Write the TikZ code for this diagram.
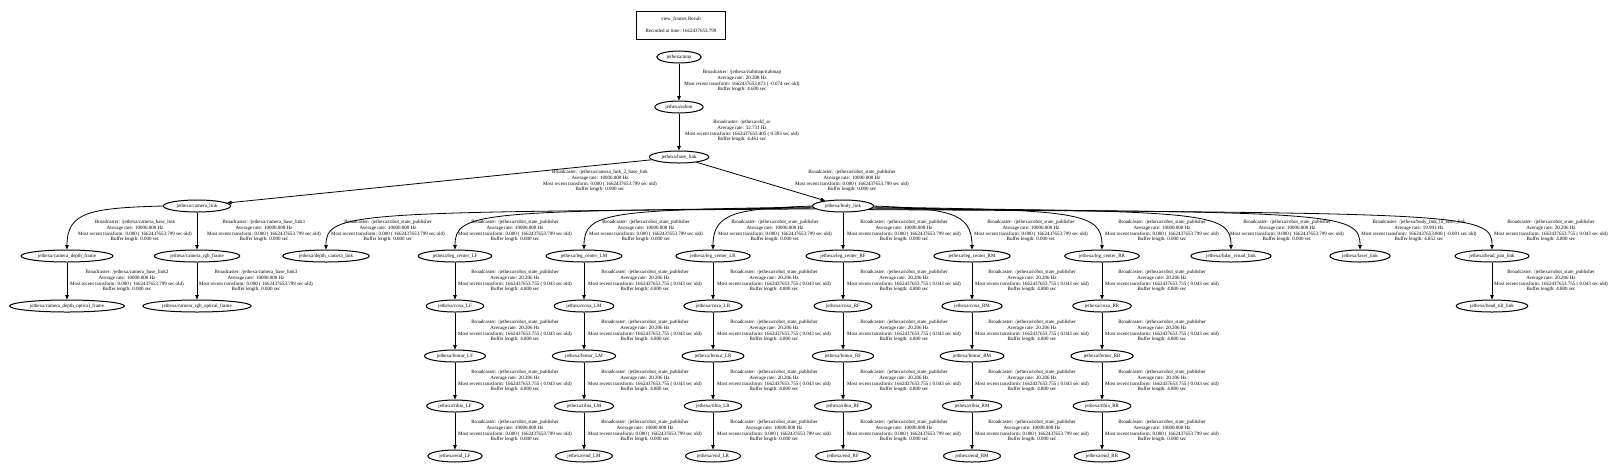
\documentclass[tikz,border=0pt]{standalone}
\usepackage{fontspec}
\setmainfont{Liberation Serif}
\usepackage{tikz}
\usetikzlibrary{shapes.geometric,arrows.meta}

\newcommand{\tfsize}{\fontsize{5pt}{5.7pt}\selectfont}
\newcommand{\rspfix}{Broadcaster: /jethexa/robot\_state\_publisher\\Average rate: 10000.000 Hz\\Most recent transform: 0.000 ( 1662437653.799 sec old)\\Buffer length: 0.000 sec}
\newcommand{\rsplive}{Broadcaster: /jethexa/robot\_state\_publisher\\Average rate: 20.206 Hz\\Most recent transform: 1662437653.755 ( 0.043 sec old)\\Buffer length: 4.800 sec}

\tikzset{
  frame/.style={draw, ellipse, line width=1pt, minimum height=12pt, inner xsep=3.5pt, inner ysep=0pt, font=\tfsize},
  info/.style={align=center, inner sep=0pt, font=\tfsize},
  tf/.style={line width=0.8pt, -{Triangle[length=4.5pt,width=3.6pt]}}
}

\begin{document}
\begin{tikzpicture}[x=1pt,y=-1pt]
                \useasboundingbox (0,0) rectangle (1620,475);

                % Title box
                \node[draw, line width=0.8pt, minimum width=89pt, minimum height=28pt, align=center, font=\tfsize] (title) at (681,25) {view\_frames Result\\[6pt]Recorded at time: 1662437653.799};

                % Map -> odom -> base
                \node[frame] (map) at (679,57) {jethexa/map};
                \node[frame] (odom) at (679,107) {jethexa/odom};
                \node[frame] (base) at (679,157) {jethexa/base\_link};
                \draw[tf] (map) -- (odom);
                \node[info] (lmapodom) at (742,81) {Broadcaster: /jethexa/rtabmap/rtabmap\\Average rate: 20.208 Hz\\Most recent transform: 1662437653.873 ( -0.074 sec old)\\Buffer length: 4.600 sec};
                \draw[tf] (odom) -- (base);
                \node[info] (lodombase) at (742,131) {Broadcaster: /jethexa/ekf\_se\\Average rate: 32.731 Hz\\Most recent transform: 1662437653.405 ( 0.393 sec old)\\Buffer length: 4.461 sec};

                % Camera link and body link
                \node[frame] (camlink) at (197,206) {jethexa/camera\_link};
                \node[frame] (body) at (843,206) {jethexa/body\_link};
                \draw[tf] (base) -- (camlink);
                \node[info] (lbasecam) at (600,181) {Broadcaster: /jethexa/camera\_link\_2\_base\_link\\Average rate: 10000.000 Hz\\Most recent transform: 0.000 ( 1662437653.799 sec old)\\Buffer length: 0.000 sec};
                \draw[tf] (base) -- (body);
                \node[info] (lbasebody) at (852,181) {\rspfix};

                % Camera frames
                \node[frame] (camdepth) at (67,256) {jethexa/camera\_depth\_frame};
                \node[frame] (camrgb) at (197,256) {jethexa/camera\_rgb\_frame};
                \node[frame] (camdepthopt) at (67,306) {jethexa/camera\_depth\_optical\_frame};
                \node[frame] (camrgbopt) at (197,306) {jethexa/camera\_rgb\_optical\_frame};
                \draw[tf] (camlink.west) .. controls (90,208) and (67,212) .. (camdepth.north);
                \node[info] (lcamdepth) at (135,231) {Broadcaster: /jethexa/camera\_base\_link\\Average rate: 10000.000 Hz\\Most recent transform: 0.000 ( 1662437653.799 sec old)\\Buffer length: 0.000 sec};
                \draw[tf] (camlink) -- (camrgb);
                \node[info] (lcamrgb) at (264,231) {Broadcaster: /jethexa/camera\_base\_link1\\Average rate: 10000.000 Hz\\Most recent transform: 0.000 ( 1662437653.799 sec old)\\Buffer length: 0.000 sec};
                \draw[tf] (camdepth) -- (camdepthopt);
                \node[info] (lcamdepthopt) at (127,281) {Broadcaster: /jethexa/camera\_base\_link2\\Average rate: 10000.000 Hz\\Most recent transform: 0.000 ( 1662437653.799 sec old)\\Buffer length: 0.000 sec};
                \draw[tf] (camrgb) -- (camrgbopt);
                \node[info] (lcamrgbopt) at (256,281) {Broadcaster: /jethexa/camera\_base\_link3\\Average rate: 10000.000 Hz\\Most recent transform: 0.000 ( 1662437653.799 sec old)\\Buffer length: 0.000 sec};

                % Children of body link
                \node[frame] (depthcam) at (326,256) {jethexa/depth\_camera\_link};
                \node[frame] (centerLF) at (455,256) {jethexa/leg\_center\_LF};
                \node[frame] (centerLM) at (584,256) {jethexa/leg\_center\_LM};
                \node[frame] (centerLR) at (713,256) {jethexa/leg\_center\_LR};
                \node[frame] (centerRF) at (843,256) {jethexa/leg\_center\_RF};
                \node[frame] (centerRM) at (972,256) {jethexa/leg\_center\_RM};
                \node[frame] (centerRR) at (1102,256) {jethexa/leg\_center\_RR};
                \node[frame] (lidar) at (1231,256) {jethexa/lidar\_visual\_link};
                \node[frame] (laser) at (1360,256) {jethexa/laser\_link};
                \node[frame] (headpan) at (1492,256) {jethexa/head\_pan\_link};
                \node[frame] (headtilt) at (1492,306) {jethexa/head\_tilt\_link};

                \draw[tf] (body.186) .. controls (351,212) and (326,212) .. (depthcam.north);
                \draw[tf] (body.184) .. controls (480,211) and (455,212) .. (centerLF.north);
                \draw[tf] (body.182) .. controls (609,210) and (584,212) .. (centerLM.north);
                \draw[tf] (body.180) .. controls (738,209) and (713,212) .. (centerLR.north);
                \draw[tf] (body) -- (centerRF);
                \draw[tf] (body.0) .. controls (947,209) and (972,212) .. (centerRM.north);
                \draw[tf] (body.358) .. controls (1077,210) and (1102,212) .. (centerRR.north);
                \draw[tf] (body.356) .. controls (1206,211) and (1231,212) .. (lidar.north);
                \draw[tf] (body.354) .. controls (1335,212) and (1360,212) .. (laser.north);
                \draw[tf] (body.352) .. controls (1467,213) and (1492,213) .. (headpan.north);
                \draw[tf] (headpan) -- (headtilt);

                \node[info] (ldepthcam) at (388,231) {\rspfix};
                \node[info] (lcenterLF) at (515,231) {\rspfix};
                \node[info] (lcenterLM) at (646,231) {\rspfix};
                \node[info] (lcenterLR) at (775,231) {\rspfix};
                \node[info] (lcenterRF) at (904,231) {\rspfix};
                \node[info] (lcenterRM) at (1031,231) {\rspfix};
                \node[info] (lcenterRR) at (1162,231) {\rspfix};
                \node[info] (llidar) at (1287,231) {\rspfix};
                \node[info] (llaser) at (1419,231) {Broadcaster: /jethexa/body\_link\_to\_laser\_link\\Average rate: 19.991 Hz\\Most recent transform: 1662437653.800 ( -0.001 sec old)\\Buffer length: 4.852 sec};
                \node[info] (lheadpan) at (1551,231) {\rsplive};
                \node[info] (lheadtilt) at (1551,281) {\rsplive};

                % Leg LF
                \node[frame] (coxaLF) at (455,306) {jethexa/coxa\_LF};
                \node[frame] (femurLF) at (455,356) {jethexa/femur\_LF};
                \node[frame] (tibiaLF) at (455,406) {jethexa/tibia\_LF};
                \node[frame] (endLF) at (455,456) {jethexa/end\_LF};
                \draw[tf] (centerLF) -- (coxaLF);
                \draw[tf] (coxaLF) -- (femurLF);
                \draw[tf] (femurLF) -- (tibiaLF);
                \draw[tf] (tibiaLF) -- (endLF);
                \node[info] (lcoxaLF) at (515,281) {\rsplive};
                \node[info] (lfemurLF) at (515,331) {\rsplive};
                \node[info] (ltibiaLF) at (515,381) {\rsplive};
                \node[info] (lendLF) at (515,431) {\rspfix};

                % Leg LM
                \node[frame] (coxaLM) at (584,306) {jethexa/coxa\_LM};
                \node[frame] (femurLM) at (584,356) {jethexa/femur\_LM};
                \node[frame] (tibiaLM) at (584,406) {jethexa/tibia\_LM};
                \node[frame] (endLM) at (584,456) {jethexa/end\_LM};
                \draw[tf] (centerLM) -- (coxaLM);
                \draw[tf] (coxaLM) -- (femurLM);
                \draw[tf] (femurLM) -- (tibiaLM);
                \draw[tf] (tibiaLM) -- (endLM);
                \node[info] (lcoxaLM) at (645,281) {\rsplive};
                \node[info] (lfemurLM) at (645,331) {\rsplive};
                \node[info] (ltibiaLM) at (645,381) {\rsplive};
                \node[info] (lendLM) at (645,431) {\rspfix};

                % Leg LR
                \node[frame] (coxaLR) at (713,306) {jethexa/coxa\_LR};
                \node[frame] (femurLR) at (713,356) {jethexa/femur\_LR};
                \node[frame] (tibiaLR) at (713,406) {jethexa/tibia\_LR};
                \node[frame] (endLR) at (713,456) {jethexa/end\_LR};
                \draw[tf] (centerLR) -- (coxaLR);
                \draw[tf] (coxaLR) -- (femurLR);
                \draw[tf] (femurLR) -- (tibiaLR);
                \draw[tf] (tibiaLR) -- (endLR);
                \node[info] (lcoxaLR) at (774,281) {\rsplive};
                \node[info] (lfemurLR) at (774,331) {\rsplive};
                \node[info] (ltibiaLR) at (774,381) {\rsplive};
                \node[info] (lendLR) at (774,431) {\rspfix};

                % Leg RF
                \node[frame] (coxaRF) at (843,306) {jethexa/coxa\_RF};
                \node[frame] (femurRF) at (843,356) {jethexa/femur\_RF};
                \node[frame] (tibiaRF) at (843,406) {jethexa/tibia\_RF};
                \node[frame] (endRF) at (843,456) {jethexa/end\_RF};
                \draw[tf] (centerRF) -- (coxaRF);
                \draw[tf] (coxaRF) -- (femurRF);
                \draw[tf] (femurRF) -- (tibiaRF);
                \draw[tf] (tibiaRF) -- (endRF);
                \node[info] (lcoxaRF) at (904,281) {\rsplive};
                \node[info] (lfemurRF) at (904,331) {\rsplive};
                \node[info] (ltibiaRF) at (904,381) {\rsplive};
                \node[info] (lendRF) at (904,431) {\rspfix};

                % Leg RM
                \node[frame] (coxaRM) at (972,306) {jethexa/coxa\_RM};
                \node[frame] (femurRM) at (972,356) {jethexa/femur\_RM};
                \node[frame] (tibiaRM) at (972,406) {jethexa/tibia\_RM};
                \node[frame] (endRM) at (972,456) {jethexa/end\_RM};
                \draw[tf] (centerRM) -- (coxaRM);
                \draw[tf] (coxaRM) -- (femurRM);
                \draw[tf] (femurRM) -- (tibiaRM);
                \draw[tf] (tibiaRM) -- (endRM);
                \node[info] (lcoxaRM) at (1032,281) {\rsplive};
                \node[info] (lfemurRM) at (1032,331) {\rsplive};
                \node[info] (ltibiaRM) at (1032,381) {\rsplive};
                \node[info] (lendRM) at (1032,431) {\rspfix};

                % Leg RR
                \node[frame] (coxaRR) at (1102,306) {jethexa/coxa\_RR};
                \node[frame] (femurRR) at (1102,356) {jethexa/femur\_RR};
                \node[frame] (tibiaRR) at (1102,406) {jethexa/tibia\_RR};
                \node[frame] (endRR) at (1102,456) {jethexa/end\_RR};
                \draw[tf] (centerRR) -- (coxaRR);
                \draw[tf] (coxaRR) -- (femurRR);
                \draw[tf] (femurRR) -- (tibiaRR);
                \draw[tf] (tibiaRR) -- (endRR);
                \node[info] (lcoxaRR) at (1162,281) {\rsplive};
                \node[info] (lfemurRR) at (1162,331) {\rsplive};
                \node[info] (ltibiaRR) at (1162,381) {\rsplive};
                \node[info] (lendRR) at (1162,431) {\rspfix};
\end{tikzpicture}
\end{document}
